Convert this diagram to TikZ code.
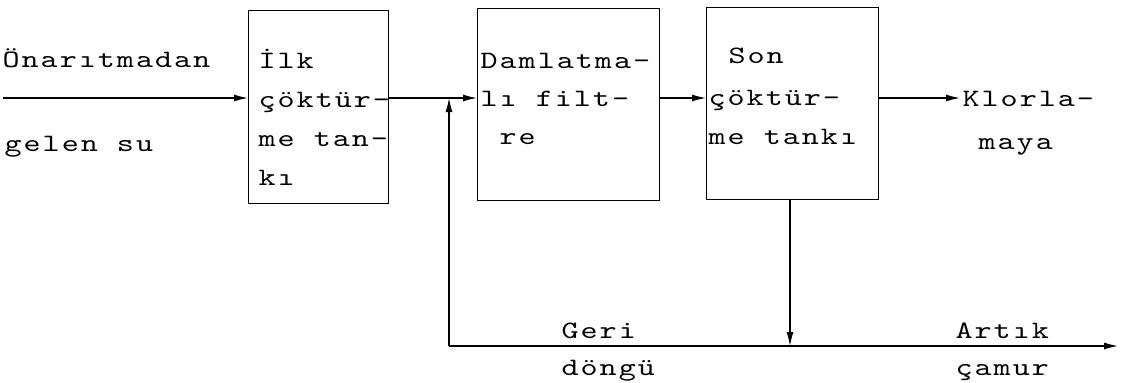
\documentclass[tikz,border=0pt]{standalone}
\usepackage{fontspec}
\usetikzlibrary{arrows.meta}
\newfontfamily\twfam{lmmono10-regular.otf}[FakeStretch=1.3,LetterSpace=8]
\newcommand\twfont{\twfam\fontsize{25}{39}\selectfont}
\begin{document}
\begin{tikzpicture}[x=1pt,y=-1pt,line width=1.2pt,
  box/.style={draw,anchor=north west,inner sep=0pt},
  txt/.style={anchor=base west,inner sep=0pt,font=\twfont},
  arr/.style={-{Latex[length=14pt,width=7pt]}}]
\useasboundingbox (0,0) rectangle (1128,383);
% boxes
\node[box,minimum width=140pt,minimum height=193pt] (b1) at (248,10) {};
\node[box,minimum width=182pt,minimum height=192pt] (b2) at (477,8) {};
\node[box,minimum width=172pt,minimum height=192pt] (b3) at (706,7) {};
% coordinates
\coordinate (in) at (3,98);
\coordinate (m) at (0,98);
\coordinate (j) at (449,98);
\coordinate (jb) at (449,346);
\coordinate (d) at (790,346);
\coordinate (out) at (1118,346);
\coordinate (kl) at (960,98);
% connectors
\draw[arr] (in) -- (in -| b1.west);
\draw[arr] (m -| b1.east) -- (m -| b2.west);
\draw[arr] (jb) -- (j);
\draw[arr] (m -| b2.east) -- (m -| b3.west);
\draw[arr] (m -| b3.east) -- (kl);
\draw[arr] (b3.south -| d) -- (d);
\draw[arr] (jb) -- (out);
% texts
\node[txt] (t1) at (2,67) {Önarıtmadan};
\node[txt] (t2) at (4,151) {gelen su};
\node[txt] (t3) at (258,68) {İlk};
\node[txt] (t4) at (258,107) {çöktür-};
\node[txt] (t5) at (258,146) {me tan-};
\node[txt] (t6) at (258,185) {kı};
\node[txt] (t7) at (480,68) {Damlatma-};
\node[txt] (t8) at (480,106) {lı filt-};
\node[txt] (t9) at (499,144) {re};
\node[txt] (t10) at (728,63) {Son};
\node[txt] (t11) at (708,105) {çöktür-};
\node[txt] (t12) at (708,144) {me tankı};
\node[txt] (t13) at (962,106) {Klorla-};
\node[txt] (t14) at (978,149) {maya};
\node[txt] (t15) at (561,338) {Geri};
\node[txt] (t16) at (561,375) {döngü};
\node[txt] (t17) at (955,338) {Artık};
\node[txt] (t18) at (955,375) {çamur};
\end{tikzpicture}
\end{document}
